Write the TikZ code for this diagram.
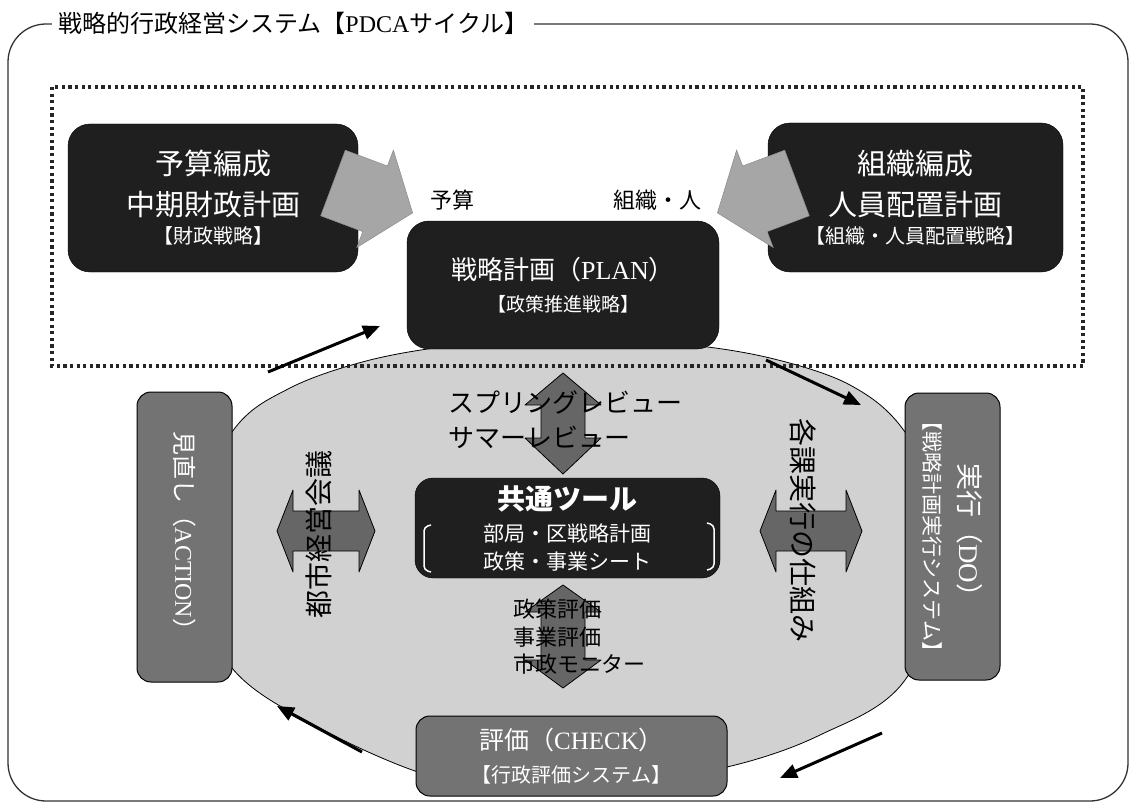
\documentclass[tikz,border=0pt]{standalone}
\usepackage{fontspec}
\setmainfont{Noto Sans CJK JP}
\newfontfamily\lat{Liberation Serif}
\usetikzlibrary{arrows.meta}
\begin{document}
\begin{tikzpicture}[x=1pt,y=-1pt,
  darkbox/.style={draw=black, fill=black!88, rounded corners=22pt, text=white, align=center, inner sep=0pt},
  graybox/.style={draw=black, line width=1pt, fill=black!55, rounded corners=14pt, text=white, align=center, inner sep=0pt},
  dotbox/.style={line width=3.2pt, dash pattern=on 3.2pt off 3.4pt, black!85},
  frame/.style={draw=black!80, line width=1.3pt, rounded corners=38pt},
  flow/.style={line width=3pt, -{Triangle[length=17pt,width=14pt]}},
  bigarrow/.style={fill=black!35, draw=black!45, line width=0.5pt},
  dblarrow/.style={fill=black!60, draw=black, line width=0.8pt, line join=round},
  lbl/.style={text=black, inner sep=0pt},
]
\useasboundingbox (0,0) rectangle (1134,805);
% outer frame and title
\draw[frame] (8,24) rectangle (1128,801);
\node[fill=white, inner xsep=6pt, inner ysep=2pt, anchor=west, font=\fontsize{24}{26}\selectfont] (title) at (52,23)
  {戦略的行政経営システム【{\lat PDCA}サイクル】};
% ellipse
\draw[fill=black!18, line width=0.8pt] plot[smooth cycle, tension=0.55] coordinates {
  (232,432) (290,388) (370,360) (460,345) (567,340) (680,344) (770,358) (850,385) (905,432)
  (960,540) (905,680) (820,735) (727,767) (600,787) (480,783) (415,771) (320,728) (232,668) (175,550)};
% dotted region
\draw[dotbox] (52,87) rectangle (1083,366);
% dark boxes
\node[darkbox, minimum width=290pt, minimum height=148pt, font=\fontsize{29}{41}\selectfont] (budget) at (213,198)
  {予算編成\\中期財政計画\\[-13pt]{\fontsize{20}{24}\selectfont【財政戦略】}};
\node[darkbox, minimum width=295pt, minimum height=149pt, font=\fontsize{29}{41}\selectfont] (org) at (915.5,197.5)
  {組織編成\\人員配置計画\\[-13pt]{\fontsize{20}{24}\selectfont【組織・人員配置戦略】}};
\node[darkbox, minimum width=312pt, minimum height=128pt, font=\fontsize{26}{32}\selectfont] (plan) at (563,285)
  {戦略計画（{\lat PLAN}）\\{\fontsize{19}{24}\selectfont【政策推進戦略】}};
% big gray arrows into PLAN
\filldraw[bigarrow] (345.3,150.2) -- (387.4,166) -- (393.4,150.1) -- (412.6,212.9) -- (356.8,247.5) -- (362.8,231.6) -- (320.7,215.8) -- cycle;
\filldraw[bigarrow] (784.7,150.2) -- (742.6,166) -- (736.6,150.1) -- (717.4,212.9) -- (773.2,247.5) -- (767.2,231.6) -- (809.3,215.8) -- cycle;
\node[lbl, font=\fontsize{22}{24}\selectfont] (lbudget) at (452,200) {予算};
\node[lbl, font=\fontsize{22}{24}\selectfont] (lorg) at (657,200) {組織・人};
% gray boxes
\node[graybox, rotate=-90, minimum width=290pt, minimum height=95pt, font=\fontsize{24}{28}\selectfont] (action) at (184.5,537)
  {見直し（{\lat ACTION}）};
\node[graybox, rotate=-90, minimum width=287pt, minimum height=95pt, font=\fontsize{27}{35}\selectfont] (do) at (952.5,536.5)
  {実行（{\lat DO}）\\{\fontsize{21}{24}\selectfont【戦略計画実行システム】}};
\node[graybox, minimum width=311pt, minimum height=80pt, font=\fontsize{25}{33}\selectfont] (check) at (571.5,756)
  {評価（{\lat CHECK}）\\{\fontsize{20}{24}\selectfont【行政評価システム】}};
% common tool box
\node[darkbox, rounded corners=18pt, minimum width=305pt, minimum height=100pt, font=\fontsize{21}{28}\selectfont] (tool) at (567.5,528)
  {{\fontsize{28}{30}\selectfont\bfseries 共通ツール}\\[4pt]部局・区戦略計画\\政策・事業シート};
\draw[white, line width=1.5pt, rounded corners=4pt] (431,525) -- (424,527) -- (424,570) -- (431,572);
\draw[white, line width=1.5pt, rounded corners=4pt] (707,523) -- (714,525) -- (714,568) -- (707,570);
% double arrows
\filldraw[dblarrow] (563,373) -- (601,405) -- (585,405) -- (585,438) -- (601,438) -- (563,474) -- (525,438) -- (541,438) -- (541,405) -- (525,405) -- cycle;
\filldraw[dblarrow] (563,585) -- (601,612) -- (585,612) -- (585,660) -- (601,660) -- (563,688) -- (525,660) -- (541,660) -- (541,612) -- (525,612) -- cycle;
\filldraw[dblarrow] (277,531) -- (293,490) -- (293,511) -- (359,511) -- (359,490) -- (375,531) -- (359,572) -- (359,551) -- (293,551) -- (293,572) -- cycle;
\filldraw[dblarrow] (760,531) -- (776,490) -- (776,511) -- (846,511) -- (846,490) -- (862,531) -- (846,572) -- (846,551) -- (776,551) -- (776,572) -- cycle;
% texts in ellipse
\node[lbl, anchor=west, align=left, font=\fontsize{26}{35}\selectfont] (review) at (448,420) {スプリングレビュー\\サマーレビュー};
\node[lbl, anchor=west, align=left, font=\fontsize{22}{27.5}\selectfont] (evals) at (513,637) {政策評価\\事業評価\\市政モニター};
\node[lbl, rotate=90, font=\fontsize{28}{30}\selectfont] (meeting) at (319,534) {都市経営会議};
\node[lbl, rotate=-90, font=\fontsize{28}{30}\selectfont] (sections) at (803,530) {各課実行の仕組み};
% cycle arrows
\coordinate (a1s) at (268,372); \coordinate (a1e) at (380,326);
\coordinate (a2s) at (766,360); \coordinate (a2e) at (861,405);
\coordinate (a3s) at (882,733); \coordinate (a3e) at (780,778);
\coordinate (a4s) at (362,752); \coordinate (a4e) at (277,706);
\draw[flow] (a1s) -- (a1e);
\draw[flow] (a2s) -- (a2e);
\draw[flow] (a3s) -- (a3e);
\draw[flow] (a4s) -- (a4e);
\end{tikzpicture}
\end{document}
